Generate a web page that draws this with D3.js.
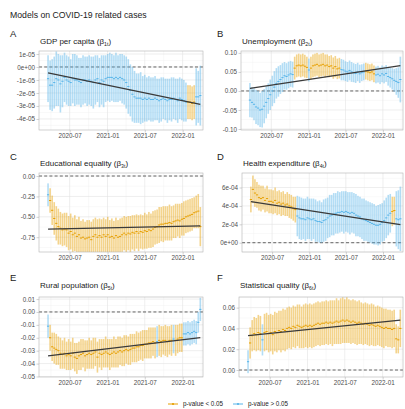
<!DOCTYPE html>
<html>
<head>
<meta charset="utf-8">
<script src="https://cdn.jsdelivr.net/npm/d3@7"></script>
<style>
  body { margin: 0; background: #fff; }
  svg { display: block; font-family: "Liberation Sans", Arial, sans-serif; }
</style>
</head>
<body>
<svg width="405" height="409"></svg>
<script>

// estimates every 10 days, 2020-03-18 .. 2022-03-28 (75 points)
let firstDate = new Date(2020, 2, 18);
let dates = d3.range(75).map(i => d3.timeDay.offset(firstDate, 10 * i));

let xTicks = ['2020-07-01', '2021-01-01', '2021-07-01', '2022-01-01'];
let xTickLabels = ['2020-07', '2021-01', '2021-07', '2022-01'];
let xMinorTicks = ['2020-04-01', '2020-10-01', '2021-04-01', '2021-10-01', '2022-04-01'];

// A: GDP per capita, values in units of 1e-5
let gdpEst = [-0.9, -1.4, -1.4, -1.2, -0.9, -1.0, -1.3, -1.1, -0.8, -1.0,
              -1.1, -1.2, -0.9, -1.0, -1.0, -1.1, -1.2, -1.0, -1.0, -1.1,
              -1.0, -1.1, -1.2, -1.0, -0.9, -1.2, -1.0, -1.1, -0.9, -0.8,
              -0.8, -0.8, -0.9, -0.8, -0.9, -0.8, -0.9, -1.0, -1.2, -1.5,
              -1.8, -2.1, -2.3, -2.4, -2.4, -2.4, -2.5, -2.4, -2.5, -2.4,
              -2.5, -2.5, -2.4, -2.5, -2.6, -2.5, -2.4, -2.5, -2.6, -2.5,
              -2.5, -2.4, -2.5, -2.6, -2.4, -2.5, -2.6, -2.7, -2.7, -2.7,
              -2.8, -2.7, -2.3, -2.3, -2.2];
let gdpHw = [1.8, 1.9, 2.0, 2.0, 2.1, 2.0, 2.2, 2.0, 1.9, 1.9,
             1.9, 1.8, 1.9, 2.0, 1.9, 1.8, 1.9, 1.9, 1.8, 1.9,
             1.9, 1.9, 2.0, 1.9, 1.8, 1.9, 1.9, 2.0, 1.8, 1.8,
             1.9, 1.8, 1.8, 1.9, 1.8, 1.8, 1.9, 1.9, 2.0, 2.1,
             2.0, 2.1, 2.0, 1.9, 1.9, 2.0, 1.8, 1.8, 1.7, 1.7,
             1.7, 1.7, 1.7, 1.6, 1.7, 1.7, 1.6, 1.6, 1.7, 1.6,
             1.7, 1.6, 1.6, 1.7, 1.6, 1.6, 1.6, 1.5, 1.3, 1.3,
             1.3, 1.3, 2.2, 2.0, 2.3];
let gdpSig = '0000000000 0000000000 0000000000 0000000000 0000000000 0000000000 0000000011 11000';
let gdpTrend = [-0.45, -2.87];

// B: Unemployment
let unempEst = [-0.024, -0.03, -0.035, -0.042, -0.045, -0.05, -0.048, -0.04, -0.03, -0.02,
                -0.01, 0.0, 0.01, 0.02, 0.025, 0.03, 0.035, 0.04, 0.038, 0.042,
                0.045, 0.043, 0.06, 0.066, 0.068, 0.066, 0.068, 0.065, 0.062, 0.055,
                0.06, 0.066, 0.068, 0.07, 0.066, 0.068, 0.07, 0.066, 0.068, 0.064,
                0.066, 0.06, 0.064, 0.058, 0.06, 0.056, 0.055, 0.052, 0.05, 0.054,
                0.05, 0.048, 0.046, 0.05, 0.045, 0.048, 0.05, 0.052, 0.05, 0.048,
                0.05, 0.045, 0.042, 0.044, 0.04, 0.045, 0.042, 0.046, 0.038, 0.035,
                0.032, 0.028, 0.025, 0.022, 0.03];
let unempHw = [0.045, 0.04, 0.042, 0.045, 0.045, 0.045, 0.048, 0.045, 0.042, 0.04,
               0.04, 0.04, 0.042, 0.04, 0.04, 0.038, 0.038, 0.036, 0.035, 0.035,
               0.034, 0.034, 0.03, 0.03, 0.03, 0.03, 0.03, 0.03, 0.028, 0.03,
               0.03, 0.03, 0.03, 0.03, 0.03, 0.03, 0.03, 0.03, 0.028, 0.028,
               0.028, 0.028, 0.028, 0.027, 0.027, 0.028, 0.027, 0.026, 0.026, 0.026,
               0.026, 0.025, 0.025, 0.024, 0.024, 0.022, 0.022, 0.022, 0.022, 0.022,
               0.022, 0.022, 0.022, 0.022, 0.022, 0.022, 0.022, 0.022, 0.024, 0.026,
               0.028, 0.03, 0.035, 0.04, 0.06];
let unempSig = '0000000000 0000000000 0011111110 1111111111 1111100000 0000000111 1100000000 00000';
let unempTrend = [0.007, 0.0666];

// C: Educational equality
let eduEst = [-0.23, -0.3, -0.42, -0.52, -0.58, -0.62, -0.64, -0.66, -0.65, -0.66,
              -0.7, -0.68, -0.72, -0.7, -0.74, -0.72, -0.76, -0.75, -0.77, -0.76,
              -0.75, -0.78, -0.74, -0.72, -0.75, -0.73, -0.75, -0.72, -0.74, -0.72,
              -0.75, -0.74, -0.76, -0.73, -0.75, -0.74, -0.72, -0.7, -0.72, -0.7,
              -0.71, -0.69, -0.7, -0.68, -0.7, -0.68, -0.69, -0.67, -0.68, -0.66,
              -0.67, -0.65, -0.63, -0.62, -0.6, -0.59, -0.59, -0.58, -0.58, -0.57,
              -0.58, -0.56, -0.55, -0.54, -0.55, -0.53, -0.52, -0.5, -0.49, -0.48,
              -0.47, -0.45, -0.44, -0.43, -0.62];
let eduHw = [0.14, 0.15, 0.18, 0.2, 0.21, 0.22, 0.2, 0.2, 0.2, 0.21,
             0.21, 0.22, 0.21, 0.22, 0.21, 0.22, 0.21, 0.22, 0.21, 0.22,
             0.21, 0.22, 0.21, 0.21, 0.22, 0.21, 0.22, 0.21, 0.21, 0.22,
             0.21, 0.22, 0.21, 0.22, 0.21, 0.22, 0.21, 0.21, 0.22, 0.21,
             0.22, 0.21, 0.22, 0.21, 0.22, 0.21, 0.21, 0.22, 0.21, 0.22,
             0.21, 0.22, 0.21, 0.21, 0.22, 0.21, 0.22, 0.21, 0.21, 0.22,
             0.21, 0.2, 0.21, 0.2, 0.21, 0.2, 0.21, 0.2, 0.2, 0.2,
             0.2, 0.19, 0.2, 0.21, 0.24];
let eduSig = '0111111111 1111111111 1111111111 1111111111 1111111111 1111111111 1111111111 11111';
let eduTrend = [-0.65, -0.61];

// D: Health expenditure, values in units of 1e-4
let healthEst = [4.7, 5.8, 5.4, 5.2, 4.9, 4.8, 4.9, 4.6, 4.8, 4.5,
                 4.5, 4.4, 4.6, 4.3, 4.4, 4.2, 4.3, 4.1, 4.2, 4.0,
                 3.9, 3.7, 3.6, 2.9, 2.7, 2.6, 2.6, 2.5, 2.7, 2.6,
                 2.5, 2.6, 2.4, 2.3, 2.3, 2.2, 2.4, 2.5, 2.7, 2.9,
                 3.0, 3.1, 3.2, 3.3, 3.3, 3.4, 3.3, 3.4, 3.3, 3.2,
                 3.3, 3.2, 3.0, 2.9, 2.8, 2.6, 2.5, 2.4, 2.3, 2.2,
                 2.1, 2.0, 1.9, 1.9, 2.0, 2.2, 2.4, 2.7, 3.0, 3.2,
                 3.4, 3.5, 2.6, 2.5, 2.6];
let healthHw = [1.4, 1.5, 1.5, 1.4, 1.4, 1.4, 1.3, 1.3, 1.4, 1.3,
                1.3, 1.3, 1.4, 1.3, 1.3, 1.3, 1.3, 1.2, 1.3, 1.3,
                1.3, 1.3, 1.4, 2.2, 2.3, 2.3, 2.2, 2.3, 2.3, 2.2,
                2.3, 2.2, 2.3, 2.2, 2.3, 2.2, 2.3, 2.3, 2.2, 2.3,
                2.2, 2.3, 2.2, 2.3, 2.2, 2.2, 2.3, 2.2, 2.2, 2.3,
                2.2, 2.2, 2.3, 2.2, 2.2, 2.2, 2.3, 2.2, 2.2, 2.2,
                2.2, 2.2, 2.1, 2.2, 2.2, 2.1, 2.2, 2.2, 2.2, 2.1,
                1.6, 1.5, 3.0, 3.2, 3.5];
let healthSig = '1111111111 1111111111 1110000000 0000000000 0000000000 0000000000 0000000000 11000';
let healthTrend = [4.46, 1.96];

// E: Rural population
let ruralEst = [-0.011, -0.02, -0.027, -0.028, -0.029, -0.030, -0.032, -0.033, -0.032, -0.034,
                -0.033, -0.034, -0.032, -0.035, -0.036, -0.034, -0.033, -0.032, -0.034, -0.033,
                -0.032, -0.033, -0.032, -0.031, -0.035, -0.032, -0.033, -0.032, -0.031, -0.032,
                -0.033, -0.032, -0.031, -0.032, -0.031, -0.03, -0.031, -0.03, -0.029, -0.03,
                -0.029, -0.028, -0.028, -0.027, -0.027, -0.026, -0.026, -0.025, -0.025, -0.024,
                -0.024, -0.023, -0.024, -0.023, -0.022, -0.023, -0.022, -0.022, -0.023, -0.022,
                -0.022, -0.021, -0.022, -0.021, -0.02, -0.02, -0.017, -0.017, -0.016, -0.017,
                -0.016, -0.015, -0.016, -0.008, 0.002];
let ruralHw = [0.009, 0.01, 0.011, 0.012, 0.012, 0.011, 0.012, 0.011, 0.012, 0.011,
               0.012, 0.011, 0.012, 0.011, 0.012, 0.011, 0.012, 0.011, 0.012, 0.011,
               0.012, 0.011, 0.012, 0.011, 0.012, 0.011, 0.012, 0.011, 0.012, 0.011,
               0.012, 0.011, 0.012, 0.011, 0.012, 0.011, 0.011, 0.012, 0.011, 0.011,
               0.012, 0.011, 0.011, 0.012, 0.011, 0.011, 0.012, 0.011, 0.011, 0.012,
               0.012, 0.011, 0.012, 0.012, 0.012, 0.012, 0.011, 0.012, 0.012, 0.011,
               0.012, 0.011, 0.012, 0.011, 0.011, 0.011, 0.009, 0.009, 0.009, 0.009,
               0.009, 0.009, 0.009, 0.008, 0.009];
let ruralSig = '0111111111 1111111111 1111111111 1111111111 1111111111 1110111111 1011110000 00000';
let ruralTrend = [-0.0341, -0.0199];

// F: Statistical quality
let statEst = [0.008, 0.026, 0.033, 0.035, 0.034, 0.036, 0.035, 0.029, 0.036, 0.037,
               0.035, 0.036, 0.034, 0.037, 0.036, 0.038, 0.037, 0.039, 0.038, 0.04,
               0.041, 0.04, 0.042, 0.041, 0.043, 0.042, 0.041, 0.042, 0.043, 0.042,
               0.043, 0.042, 0.043, 0.044, 0.045, 0.044, 0.045, 0.045, 0.046, 0.045,
               0.046, 0.045, 0.046, 0.047, 0.046, 0.047, 0.048, 0.047, 0.048, 0.047,
               0.046, 0.047, 0.046, 0.045, 0.046, 0.045, 0.044, 0.045, 0.044, 0.043,
               0.044, 0.043, 0.042, 0.043, 0.042, 0.041, 0.04, 0.041, 0.04, 0.04,
               0.039, 0.04, 0.03, 0.029, 0.04];
let statHw = [0.011, 0.015, 0.015, 0.016, 0.016, 0.017, 0.017, 0.015, 0.018, 0.018,
              0.018, 0.018, 0.019, 0.019, 0.019, 0.019, 0.02, 0.02, 0.02, 0.02,
              0.02, 0.02, 0.02, 0.02, 0.02, 0.021, 0.02, 0.021, 0.021, 0.021,
              0.021, 0.021, 0.021, 0.021, 0.021, 0.021, 0.021, 0.021, 0.021, 0.021,
              0.021, 0.022, 0.021, 0.022, 0.021, 0.022, 0.022, 0.021, 0.022, 0.021,
              0.021, 0.021, 0.021, 0.021, 0.021, 0.02, 0.02, 0.02, 0.02, 0.02,
              0.02, 0.02, 0.019, 0.019, 0.019, 0.019, 0.019, 0.018, 0.018, 0.018,
              0.018, 0.018, 0.014, 0.013, 0.018];
let statSig = '0111111011 1111111111 1111111111 1111111111 1111111111 1111111111 1111111111 11111';
let statTrend = [0.033, 0.048];

let legendLabels = ['p-value < 0.05', 'p-value > 0.05'];
let colors = { sig: '#E69F00', ns: '#56B4E9' };

let panels = [
  { tag: 'A', title: 'GDP per capita (β', sub: '1t', est: gdpEst, hw: gdpHw, sig: gdpSig, trend: gdpTrend,
    yDomain: [-4.85, 1.23], yTicks: [1, 0, -1, -2, -3, -4],
    yLabels: ['1e-05', '0e+00', '-1e-05', '-2e-05', '-3e-05', '-4e-05'],
    box: [39, 51, 203, 130], tagPos: [10, 37], titlePos: [40, 44] },
  { tag: 'B', title: 'Unemployment (β', sub: '2t', est: unempEst, hw: unempHw, sig: unempSig, trend: unempTrend,
    yDomain: [-0.1026, 0.105], yTicks: [0.10, 0.05, 0, -0.05, -0.10],
    yLabels: ['0.10', '0.05', '0.00', '-0.05', '-0.10'],
    box: [241, 51, 403, 130], tagPos: [217, 37], titlePos: [242, 44] },
  { tag: 'C', title: 'Educational equality (β', sub: '3t', est: eduEst, hw: eduHw, sig: eduSig, trend: eduTrend,
    yDomain: [-0.931, 0.037], yTicks: [0, -0.25, -0.5, -0.75],
    yLabels: ['0.00', '-0.25', '-0.50', '-0.75'],
    box: [39, 173, 203, 252], tagPos: [10, 159.5], titlePos: [40, 166] },
  { tag: 'D', title: 'Health expenditure (β', sub: '4t', est: healthEst, hw: healthHw, sig: healthSig, trend: healthTrend,
    yDomain: [-1.01, 7.58], yTicks: [6, 4, 2, 0],
    yLabels: ['6e-04', '4e-04', '2e-04', '0e+00'],
    box: [242, 173, 403, 252], tagPos: [217, 159.5], titlePos: [243, 166] },
  { tag: 'E', title: 'Rural population (β', sub: '5t', est: ruralEst, hw: ruralHw, sig: ruralSig, trend: ruralTrend,
    yDomain: [-0.0504, 0.0116], yTicks: [0.01, 0, -0.01, -0.02, -0.03, -0.04, -0.05],
    yLabels: ['0.01', '0.00', '-0.01', '-0.02', '-0.03', '-0.04', '-0.05'],
    box: [39, 297, 203, 377], tagPos: [10, 281], titlePos: [40, 288] },
  { tag: 'F', title: 'Statistical quality (β', sub: '6t', est: statEst, hw: statHw, sig: statSig, trend: statTrend,
    yDomain: [-0.0067, 0.0702], yTicks: [0.06, 0.04, 0.02, 0],
    yLabels: ['0.06', '0.04', '0.02', '0.00'],
    box: [239, 297, 403, 377], tagPos: [217, 281], titlePos: [240, 288] }
];

let parseDay = d3.timeParse('%Y-%m-%d');
let xDomain = [new Date(2020, 1, 3), new Date(2022, 3, 10)];

let svg = d3.select('svg');

svg.append('text')
  .attr('x', 10).attr('y', 18)
  .attr('font-size', 8.7).attr('fill', '#222')
  .text('Models on COVID-19 related cases');

panels.forEach((p, pi) => {
  let [x0, y0, x1, y1] = p.box;
  let flags = p.sig.replace(/ /g, '').split('').map(Number);

  let xScale = d3.scaleTime().domain(xDomain).range([x0, x1]);
  let yScale = d3.scaleLinear().domain(p.yDomain).range([y1, y0]);

  let g = svg.append('g');

  g.append('clipPath').attr('id', 'clip' + pi)
    .append('rect').attr('x', x0).attr('y', y0).attr('width', x1 - x0).attr('height', y1 - y0);

  // minor grid
  let step = p.yTicks[0] - p.yTicks[1];
  let yMinor = d3.range(p.yTicks[0] + step / 2, p.yDomain[0], -step).filter(v => v < p.yDomain[1]);
  g.selectAll('.ymin').data(yMinor).join('line')
    .attr('x1', x0).attr('x2', x1)
    .attr('y1', d => yScale(d)).attr('y2', d => yScale(d))
    .attr('stroke', '#f0f0f0').attr('stroke-width', 0.4);
  g.selectAll('.xmin').data(xMinorTicks.map(parseDay)).join('line')
    .attr('x1', d => xScale(d)).attr('x2', d => xScale(d))
    .attr('y1', y0).attr('y2', y1)
    .attr('stroke', '#f0f0f0').attr('stroke-width', 0.4);

  // major grid
  g.selectAll('.ymaj').data(p.yTicks).join('line')
    .attr('x1', x0).attr('x2', x1)
    .attr('y1', d => yScale(d)).attr('y2', d => yScale(d))
    .attr('stroke', '#e2e2e2').attr('stroke-width', 0.6);
  g.selectAll('.xmaj').data(xTicks.map(parseDay)).join('line')
    .attr('x1', d => xScale(d)).attr('x2', d => xScale(d))
    .attr('y1', y0).attr('y2', y1)
    .attr('stroke', '#e2e2e2').attr('stroke-width', 0.6);

  // zero reference
  g.append('line')
    .attr('x1', x0).attr('x2', x1)
    .attr('y1', yScale(0)).attr('y2', yScale(0))
    .attr('stroke', '#555').attr('stroke-width', 0.9)
    .attr('stroke-dasharray', '3,2.2');

  let rows = dates.map((d, i) => ({ date: d, est: p.est[i], lo: p.est[i] - p.hw[i], hi: p.est[i] + p.hw[i], sig: flags[i] }));
  let marks = g.append('g').attr('clip-path', 'url(#clip' + pi + ')');

  marks.selectAll('.bar').data(rows).join('rect')
    .attr('x', d => xScale(d.date) - 0.8)
    .attr('width', 1.6)
    .attr('y', d => yScale(d.hi))
    .attr('height', d => yScale(d.lo) - yScale(d.hi))
    .attr('fill', d => d.sig ? colors.sig : colors.ns)
    .attr('fill-opacity', 0.45);

  marks.selectAll('.pt').data(rows).join('line')
    .attr('x1', d => xScale(d.date) - 1.1).attr('x2', d => xScale(d.date) + 1.1)
    .attr('y1', d => yScale(d.est)).attr('y2', d => yScale(d.est))
    .attr('stroke', d => d.sig ? colors.sig : colors.ns)
    .attr('stroke-width', 1);

  // linear trend
  g.append('line')
    .attr('x1', xScale(dates[0])).attr('x2', xScale(dates[dates.length - 1]))
    .attr('y1', yScale(p.trend[0])).attr('y2', yScale(p.trend[1]))
    .attr('stroke', '#3a3a3a').attr('stroke-width', 1.3);

  g.append('rect')
    .attr('x', x0).attr('y', y0).attr('width', x1 - x0).attr('height', y1 - y0)
    .attr('fill', 'none').attr('stroke', '#b3b3b3').attr('stroke-width', 0.6);

  let xAxis = d3.axisBottom(xScale)
    .tickValues(xTicks.map(parseDay))
    .tickFormat((d, i) => xTickLabels[i])
    .tickSize(2.5).tickPadding(1.5);
  let xg = g.append('g').attr('transform', 'translate(0,' + y1 + ')').call(xAxis);

  let yAxis = d3.axisLeft(yScale)
    .tickValues(p.yTicks)
    .tickFormat((d, i) => p.yLabels[i])
    .tickSize(2.5).tickPadding(1.5);
  let yg = g.append('g').attr('transform', 'translate(' + x0 + ',0)').call(yAxis);

  [xg, yg].forEach(a => {
    a.select('.domain').remove();
    a.selectAll('line').attr('stroke', '#b3b3b3').attr('stroke-width', 0.6);
    a.selectAll('text').attr('fill', '#4d4d4d').attr('font-size', 6.3)
      .attr('font-family', '"Liberation Sans", Arial, sans-serif');
  });

  svg.append('text')
    .attr('x', p.tagPos[0]).attr('y', p.tagPos[1])
    .attr('font-size', 9.5).attr('fill', '#222')
    .text(p.tag);

  let t = svg.append('text')
    .attr('x', p.titlePos[0]).attr('y', p.titlePos[1])
    .attr('font-size', 8).attr('fill', '#222')
    .text(p.title);
  t.append('tspan').attr('font-size', 5.2).attr('dy', 1.8).text(p.sub);
  t.append('tspan').attr('dy', -1.8).text(')');
});

// legend
let legend = svg.append('g').attr('transform', 'translate(168,404)');
[colors.sig, colors.ns].forEach((c, i) => {
  let lx = i * 65;
  legend.append('line')
    .attr('x1', lx).attr('x2', lx + 10).attr('y1', 0).attr('y2', 0)
    .attr('stroke', c).attr('stroke-width', 1);
  legend.append('circle')
    .attr('cx', lx + 5).attr('cy', 0).attr('r', 1.1).attr('fill', c);
  legend.append('text')
    .attr('x', lx + 15).attr('y', 2.2)
    .attr('font-size', 6.3).attr('fill', '#222')
    .text(legendLabels[i]);
});

</script>
</body>
</html>
